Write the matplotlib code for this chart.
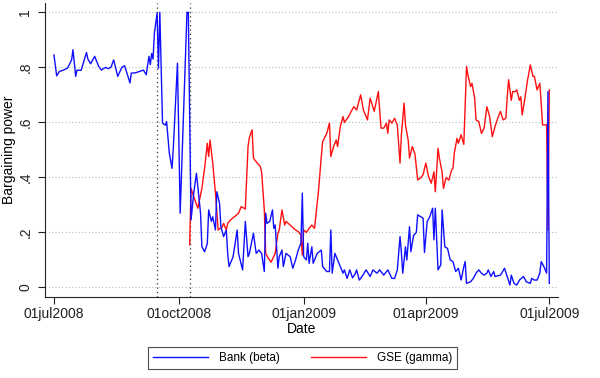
import numpy as np
import pandas as pd
import matplotlib
matplotlib.use('Agg')
import matplotlib.pyplot as plt

plt.rcParams['font.family'] = ['Liberation Sans', 'DejaVu Sans']

# Datos: dias desde 01jul2008 y valor
inicio = pd.Timestamp('2008-07-01')

bank_dias = [0, 2, 4, 7, 10, 13, 14, 16, 17, 20, 24, 25, 27, 30, 33, 35, 38, 40, 42, 44,
             46, 47, 50, 52, 55, 56, 57, 60, 63, 66, 68, 70, 71, 72, 73, 74, 76, 77, 78, 80,
             82, 83, 85, 87, 88, 91, 93, 95, 98, 99, 101, 103, 105, 108, 109, 111, 113, 114, 116, 117,
             119, 120, 122, 123, 125, 127, 128, 129, 132, 135, 136, 139, 141, 143, 144, 147, 149, 151, 153, 155,
             156, 157, 159, 161, 162, 163, 165, 166, 168, 169, 171, 174, 176, 178, 180, 182, 183, 184, 186, 187,
             188, 190, 191, 194, 197, 198, 201, 203, 204, 205, 207, 208, 211, 213, 214, 216, 218, 220, 222, 223,
             225, 227, 230, 233, 235, 238, 240, 243, 246, 249, 251, 253, 255, 256, 257, 259, 260, 262, 263, 265,
             267, 268, 270, 272, 273, 275, 277, 279, 280, 281, 283, 285, 286, 288, 290, 292, 294, 296, 298, 300,
             302, 303, 304, 307, 309, 311, 313, 315, 317, 319, 320, 322, 324, 325, 329, 332, 334, 336, 337, 339,
             341, 343, 346, 348, 351, 352, 354, 356, 358, 359, 361, 362, 363, 364, 365]
bank = [0.845, 0.769, 0.785, 0.79, 0.797, 0.827, 0.864, 0.767, 0.79, 0.789, 0.854, 0.83, 0.813, 0.84, 0.803, 0.79, 0.80, 0.795, 0.80, 0.827,
        0.788, 0.767, 0.80, 0.806, 0.76, 0.743, 0.779, 0.78, 0.785, 0.79, 0.773, 0.84, 0.81, 0.85, 0.83, 0.924, 0.997, 0.797, 1.0, 0.597,
        0.59, 0.603, 0.488, 0.433, 0.512, 0.815, 0.27, 0.56, 1.0, 1.0, 0.245, 0.343, 0.415, 0.27, 0.148, 0.13, 0.16, 0.282, 0.24, 0.257,
        0.209, 0.348, 0.306, 0.221, 0.185, 0.209, 0.124, 0.076, 0.112, 0.209, 0.124, 0.064, 0.24, 0.112, 0.124, 0.197, 0.124, 0.136, 0.124, 0.058,
        0.27, 0.233, 0.24, 0.282, 0.215, 0.227, 0.07, 0.112, 0.136, 0.076, 0.124, 0.112, 0.07, 0.1, 0.136, 0.161, 0.343, 0.112, 0.1, 0.161,
        0.088, 0.148, 0.088, 0.124, 0.136, 0.076, 0.058, 0.058, 0.209, 0.052, 0.124, 0.112, 0.076, 0.052, 0.064, 0.033, 0.064, 0.035, 0.05, 0.064,
        0.027, 0.04, 0.064, 0.04, 0.064, 0.052, 0.064, 0.045, 0.064, 0.033, 0.033, 0.064, 0.185, 0.127, 0.052, 0.148, 0.1, 0.221, 0.13, 0.19,
        0.2, 0.264, 0.258, 0.252, 0.127, 0.239, 0.258, 0.288, 0.173, 0.288, 0.064, 0.082, 0.282, 0.148, 0.142, 0.1, 0.094, 0.058, 0.07, 0.027,
        0.076, 0.094, 0.015, 0.021, 0.033, 0.052, 0.064, 0.052, 0.045, 0.052, 0.064, 0.04, 0.058, 0.04, 0.045, 0.07, 0.04, 0.009, 0.045, 0.015,
        0.009, 0.027, 0.04, 0.021, 0.015, 0.033, 0.027, 0.027, 0.052, 0.094, 0.076, 0.064, 0.052, 0.712, 0.015]

gse_dias = [100, 101, 103, 106, 109, 111, 113, 114, 115, 117, 119, 121, 124, 125, 127, 128, 130, 133, 136, 138,
            141, 143, 144, 146, 147, 149, 152, 153, 155, 156, 158, 160, 163, 165, 166, 168, 170, 171, 174, 178,
            180, 182, 183, 184, 186, 188, 190, 192, 195, 197, 198, 201, 203, 204, 206, 208, 209, 211, 213, 214,
            217, 219, 221, 223, 226, 228, 231, 233, 236, 239, 241, 243, 245, 246, 247, 249, 251, 253, 255, 256,
            258, 259, 261, 262, 264, 266, 268, 270, 272, 274, 276, 278, 280, 281, 283, 284, 286, 287, 289, 291,
            293, 294, 295, 297, 298, 300, 302, 303, 304, 305, 307, 308, 310, 311, 313, 315, 317, 319, 321, 323,
            325, 327, 329, 331, 333, 334, 335, 337, 338, 340, 341, 343, 344, 345, 347, 349, 350, 351, 353, 354,
            356, 358, 359, 360, 362, 363, 364, 365]
gse = [0.155, 0.36, 0.33, 0.288, 0.36, 0.433, 0.524, 0.476, 0.536, 0.452, 0.343, 0.209, 0.22, 0.233, 0.209, 0.233, 0.245, 0.257, 0.27, 0.294,
       0.285, 0.512, 0.545, 0.573, 0.47, 0.457, 0.44, 0.421, 0.282, 0.124, 0.106, 0.092, 0.124, 0.197, 0.209, 0.282, 0.227, 0.24, 0.227, 0.209,
       0.203, 0.191, 0.118, 0.209, 0.2, 0.215, 0.227, 0.215, 0.355, 0.476, 0.53, 0.56, 0.597, 0.476, 0.512, 0.536, 0.512, 0.585, 0.621, 0.6,
       0.62, 0.64, 0.657, 0.645, 0.7, 0.645, 0.609, 0.688, 0.64, 0.712, 0.579, 0.579, 0.597, 0.56, 0.609, 0.597, 0.615, 0.59, 0.452, 0.555,
       0.67, 0.59, 0.536, 0.47, 0.512, 0.485, 0.391, 0.397, 0.41, 0.452, 0.403, 0.379, 0.42, 0.348, 0.506, 0.47, 0.42, 0.36, 0.40, 0.39,
       0.427, 0.433, 0.488, 0.542, 0.524, 0.555, 0.52, 0.657, 0.803, 0.773, 0.73, 0.742, 0.688, 0.609, 0.603, 0.56, 0.58, 0.657, 0.621, 0.548,
       0.585, 0.615, 0.64, 0.609, 0.615, 0.694, 0.755, 0.68, 0.712, 0.712, 0.718, 0.68, 0.693, 0.627, 0.687, 0.755, 0.78, 0.809, 0.767, 0.767,
       0.718, 0.742, 0.67, 0.591, 0.591, 0.591, 0.209, 0.718]

eventos = ['2008-09-15', '2008-10-09']
ticks = ['2008-07-01', '2008-10-01', '2009-01-01', '2009-04-01', '2009-07-01']
tick_txt = ['01jul2008', '01oct2008', '01jan2009', '01apr2009', '01jul2009']
yticks = [0, 0.2, 0.4, 0.6, 0.8, 1]
ytick_txt = ['0', '.2', '.4', '.6', '.8', '1']

fecha_bank = inicio + pd.to_timedelta(bank_dias, unit='D')
fecha_gse = inicio + pd.to_timedelta(gse_dias, unit='D')

fig = plt.figure(figsize=(6, 3.78), dpi=100)
ax = fig.add_axes([0.075, 0.2143, 0.855, 0.7783])

for yv in yticks:
    ax.axhline(yv, color='#a9c4c4', lw=0.8, ls=(0, (1, 2)), zorder=0)
for ev in eventos:
    ax.axvline(pd.Timestamp(ev), color='#333333', lw=0.9, ls=(0, (1, 2.5)), zorder=1)

l1, = ax.plot(fecha_bank, bank, color='#1010ff', lw=1.0, label='Bank (beta)', zorder=3)
l2, = ax.plot(fecha_gse, gse, color='#ff1010', lw=1.0, label='GSE (gamma)', zorder=2)

ax.set_xlim(inicio - pd.Timedelta(days=6.6), inicio + pd.Timedelta(days=371.4))
ax.set_ylim(-0.0345, 1.0345)
ax.set_xticks([pd.Timestamp(t) for t in ticks])
ax.set_xticklabels(tick_txt, fontsize=10)
ax.set_yticks(yticks)
ax.set_yticklabels(ytick_txt, fontsize=10, rotation=90, va='center')
ax.tick_params(axis='both', direction='out', length=5, width=0.8, colors='#222222', pad=2)
ax.tick_params(axis='y', pad=4)
ax.set_ylabel('Bargaining power', fontsize=10, labelpad=2)
ax.set_xlabel('Date', fontsize=10, labelpad=1)

for s in ['top', 'right']:
    ax.spines[s].set_visible(False)
for s in ['left', 'bottom']:
    ax.spines[s].set_color('#222222')
    ax.spines[s].set_linewidth(0.8)

leg = fig.legend(handles=[l1, l2], loc='center', ncol=2, mode='expand',
                 bbox_to_anchor=(0.247, 0.016, 0.515, 0.074), fontsize=8.5,
                 frameon=True, fancybox=False, edgecolor='#222222',
                 handlelength=4.7, handletextpad=0.9, borderaxespad=0)
leg.get_frame().set_linewidth(0.8)

fig.savefig('out.png', dpi=100)
